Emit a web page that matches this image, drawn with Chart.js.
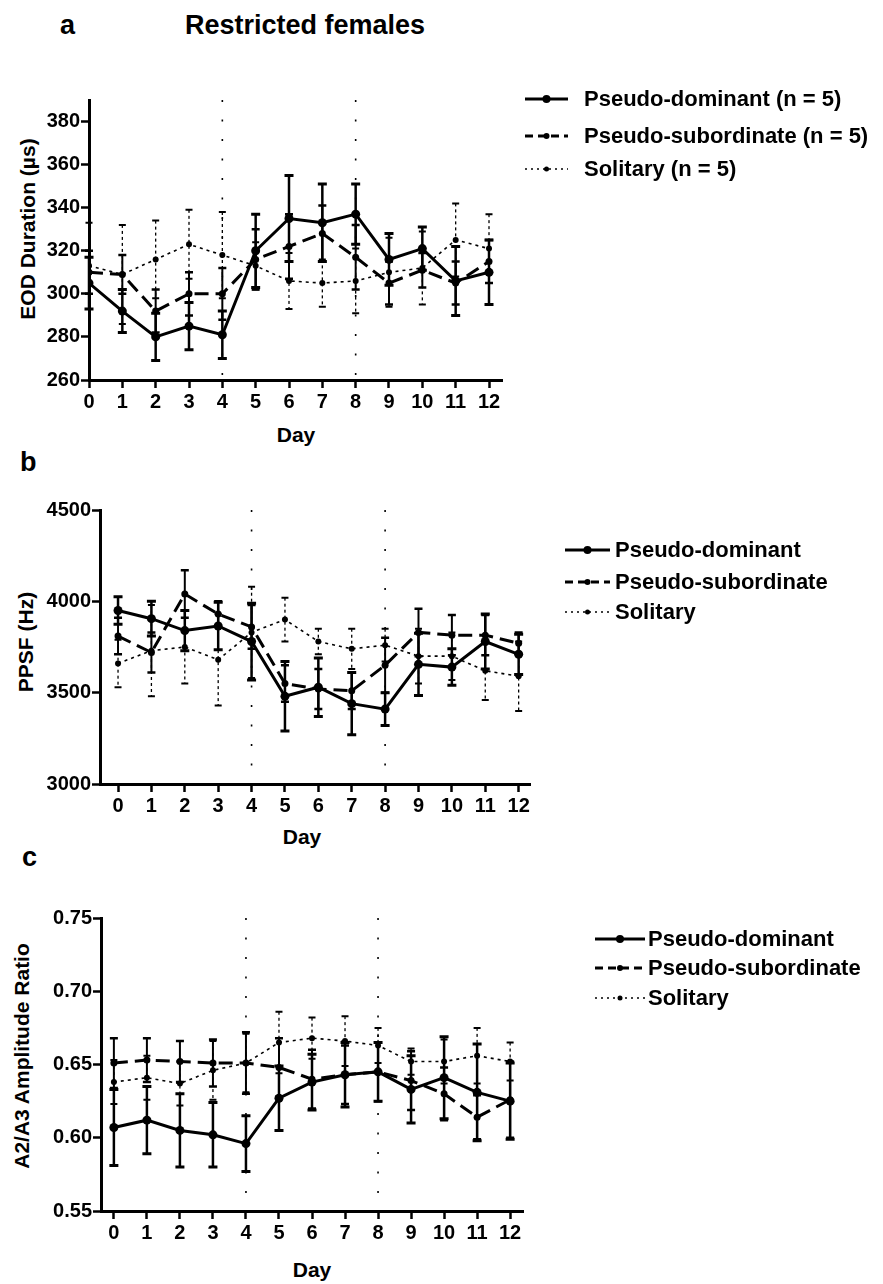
<!DOCTYPE html>
<html>
<head>
<meta charset="utf-8">
<script src="https://cdn.jsdelivr.net/npm/chart.js@4.4.1/dist/chart.umd.min.js"></script>
<style>
  html, body { margin: 0; padding: 0; background: #fff; }
  #page { position: relative; width: 883px; height: 1284px; overflow: hidden; background: #fff;
          font-family: "Liberation Sans", Arial, Helvetica, sans-serif; font-weight: bold; color: #000; }
  canvas { position: absolute; left: 0; }
  .t { position: absolute; line-height: 1; white-space: nowrap; }
  .ylab { position: absolute; line-height: 1; white-space: nowrap; font-size: 21px;
          transform: translate(-50%, -50%) rotate(-90deg); }
  .xlab { position: absolute; line-height: 1; white-space: nowrap; font-size: 21px; transform: translateX(-50%); }
</style>
</head>
<body>
<div id="page">
  <div class="t" style="left:60px; top:12px; font-size:27px;">a</div>
  <div class="t" style="left:185px; top:12px; font-size:27px;">Restricted females</div>
  <div class="t" style="left:20px; top:449px; font-size:27px;">b</div>
  <div class="t" style="left:22px; top:844px; font-size:27px;">c</div>

  <div class="ylab" style="left:27px; top:229px;">EOD Duration (µs)</div>
  <div class="ylab" style="left:25px; top:642px;">PPSF (Hz)</div>
  <div class="ylab" style="left:21px; top:1056px;">A2/A3 Amplitude Ratio</div>

  <div class="xlab" style="left:296px; top:424px;">Day</div>
  <div class="xlab" style="left:302px; top:826px;">Day</div>
  <div class="xlab" style="left:312px; top:1259px;">Day</div>
</div>
<script>
// ---- data ----
const days = [0, 1, 2, 3, 4, 5, 6, 7, 8, 9, 10, 11, 12];
const treatmentDays = [4, 8];

const eodTicks = [260, 280, 300, 320, 340, 360, 380];
const ppsfTicks = [3000, 3500, 4000, 4500];
const ampTicks = [0.55, 0.60, 0.65, 0.70, 0.75];

const legendLabelsA = ['Pseudo-dominant (n = 5)', 'Pseudo-subordinate (n = 5)', 'Solitary (n = 5)'];
const legendLabels = ['Pseudo-dominant', 'Pseudo-subordinate', 'Solitary'];

// EOD duration (µs), mean and error
const eodDominant       = [305, 292, 280, 285, 281, 320, 335, 333, 337, 316, 321, 306, 310];
const eodDominantErr    = [12, 10, 11, 11, 11, 17, 20, 18, 14, 12, 10, 16, 15];
const eodSubordinate    = [310, 309, 292, 300, 300, 316, 322, 328, 317, 305, 311, 305, 315];
const eodSubordinateErr = [10, 9, 10, 10, 12, 14, 15, 13, 15, 10, 8, 10, 10];
const eodSolitary       = [313, 309, 316, 323, 318, 313, 306, 305, 306, 310, 312, 325, 321];
const eodSolitaryErr    = [20, 23, 18, 16, 20, 11, 13, 11, 15, 16, 17, 17, 16];

// PPSF (Hz)
const ppsfDominant       = [3950, 3905, 3840, 3865, 3780, 3480, 3530, 3440, 3410, 3655, 3640, 3780, 3710];
const ppsfDominantErr    = [75, 95, 110, 130, 210, 190, 160, 170, 90, 170, 100, 150, 110];
const ppsfSubordinate    = [3810, 3720, 4040, 3930, 3860, 3550, 3520, 3510, 3650, 3830, 3815, 3815, 3770];
const ppsfSubordinateErr = [100, 110, 130, 70, 120, 100, 110, 100, 150, 130, 110, 110, 60];
const ppsfSolitary       = [3660, 3730, 3750, 3680, 3830, 3900, 3780, 3740, 3760, 3700, 3700, 3620, 3590];
const ppsfSolitaryErr    = [130, 250, 200, 250, 250, 120, 70, 110, 90, 150, 130, 160, 190];

// A2/A3 amplitude ratio
const ampDominant       = [0.607, 0.612, 0.605, 0.602, 0.596, 0.627, 0.638, 0.643, 0.645, 0.633, 0.641, 0.631, 0.625];
const ampDominantErr    = [0.026, 0.023, 0.025, 0.022, 0.019, 0.022, 0.019, 0.022, 0.020, 0.023, 0.028, 0.033, 0.026];
const ampSubordinate    = [0.651, 0.653, 0.652, 0.651, 0.651, 0.648, 0.640, 0.643, 0.645, 0.639, 0.630, 0.614, 0.626];
const ampSubordinateErr = [0.017, 0.015, 0.014, 0.016, 0.021, 0.020, 0.020, 0.020, 0.020, 0.020, 0.018, 0.015, 0.026];
const ampSolitary       = [0.638, 0.641, 0.637, 0.646, 0.651, 0.665, 0.668, 0.666, 0.663, 0.652, 0.652, 0.656, 0.652];
const ampSolitaryErr    = [0.015, 0.015, 0.015, 0.020, 0.020, 0.021, 0.014, 0.017, 0.012, 0.009, 0.015, 0.019, 0.013];

// ---- drawing styles per group: solid, dashed, dotted ----
const FONT = '"Liberation Sans", Arial, Helvetica, sans-serif';
const groupStyles = [
  { dash: [],      width: 3,   radius: 4.5, errWidth: 2.5, errDash: [],     capWidth: 3,   capHalf: 4.5, legDash: [] },
  { dash: [14, 7], width: 3,   radius: 3.5, errWidth: 2,   errDash: [],     capWidth: 2.5, capHalf: 4,   legDash: [8, 5] },
  { dash: [3, 4],  width: 1.6, radius: 3,   errWidth: 1.3, errDash: [3, 3], capWidth: 2,   capHalf: 3.5, legDash: [2, 4] }
];

// Vertical dotted markers at the treatment days
const refLines = {
  id: 'refLines',
  beforeDatasetsDraw(chart) {
    const { ctx, chartArea } = chart;
    const xs = chart.scales.x;
    ctx.save();
    ctx.strokeStyle = '#000';
    ctx.lineWidth = 1.6;
    ctx.setLineDash([2, 17.5]);
    treatmentDays.forEach(d => {
      const x = xs.getPixelForValue(d);
      ctx.beginPath();
      ctx.moveTo(x, chartArea.top);
      ctx.lineTo(x, chartArea.bottom);
      ctx.stroke();
    });
    ctx.restore();
  }
};

// Error bars with caps, taken from each dataset's `errors`
const errorBars = {
  id: 'errorBars',
  afterDatasetsDraw(chart) {
    const { ctx } = chart;
    const xs = chart.scales.x, ys = chart.scales.y;
    chart.data.datasets.forEach(ds => {
      const st = groupStyles[ds.group];
      ctx.save();
      ctx.strokeStyle = '#000';
      ds.data.forEach((p, j) => {
        const e = ds.errors[j];
        const x = xs.getPixelForValue(p.x);
        const yt = ys.getPixelForValue(p.y + e);
        const yb = ys.getPixelForValue(p.y - e);
        ctx.lineWidth = st.errWidth;
        ctx.setLineDash(st.errDash);
        ctx.beginPath();
        ctx.moveTo(x, yt);
        ctx.lineTo(x, yb);
        ctx.stroke();
        ctx.setLineDash([]);
        ctx.lineWidth = st.capWidth;
        ctx.beginPath();
        ctx.moveTo(x - st.capHalf, yt); ctx.lineTo(x + st.capHalf, yt);
        ctx.moveTo(x - st.capHalf, yb); ctx.lineTo(x + st.capHalf, yb);
        ctx.stroke();
      });
      ctx.restore();
    });
  }
};

// Legend at the right of each panel
const legendRows = {
  id: 'legendRows',
  afterDraw(chart, args, opts) {
    const { ctx } = chart;
    ctx.save();
    chart.data.datasets.forEach((ds, i) => {
      const st = groupStyles[ds.group];
      const y = opts.rows[i];
      ctx.strokeStyle = '#000';
      ctx.lineWidth = st.width;
      ctx.setLineDash(st.legDash);
      ctx.beginPath();
      ctx.moveTo(opts.x0, y);
      ctx.lineTo(opts.x1, y);
      ctx.stroke();
      ctx.setLineDash([]);
      ctx.fillStyle = '#000';
      ctx.beginPath();
      ctx.arc((opts.x0 + opts.x1) / 2, y, st.radius - 0.5, 0, Math.PI * 2);
      ctx.fill();
      ctx.font = 'bold ' + opts.size + 'px ' + FONT;
      ctx.textBaseline = 'middle';
      ctx.textAlign = 'left';
      ctx.fillText(ds.label, opts.textX, y + 1);
    });
    ctx.restore();
  }
};

const page = document.getElementById('page');
const tickFont = { family: FONT, size: 20, weight: 'bold' };

function panel(cfg) {
  const canvas = document.createElement('canvas');
  canvas.width = 883;
  canvas.height = cfg.height;
  canvas.style.top = cfg.top + 'px';
  page.appendChild(canvas);

  const datasets = cfg.series.map((s, i) => ({
    label: cfg.labels[i],
    group: i,
    data: days.map((d, j) => ({ x: d, y: s.values[j] })),
    errors: s.errors,
    borderColor: '#000',
    backgroundColor: '#000',
    borderWidth: groupStyles[i].width,
    borderDash: groupStyles[i].dash,
    pointRadius: groupStyles[i].radius,
    pointBorderWidth: 0,
    pointBackgroundColor: '#000',
    tension: 0,
    order: 3 - i
  }));

  const plotBottomInCanvas = cfg.plotBottom - cfg.top;

  new Chart(canvas, {
    type: 'line',
    data: { datasets },
    options: {
      responsive: false,
      animation: false,
      devicePixelRatio: 1,
      layout: { padding: { left: 0, top: cfg.plotTop - cfg.top, right: 883 - cfg.plotRight, bottom: 0 } },
      plugins: {
        legend: { display: false },
        tooltip: { enabled: false },
        legendRows: cfg.legend
      },
      scales: {
        x: {
          type: 'linear',
          min: cfg.xMin, max: cfg.xMax,
          afterBuildTicks: s => { s.ticks = days.map(v => ({ value: v })); },
          afterFit: s => { s.height = cfg.height - plotBottomInCanvas; },
          grid: { drawOnChartArea: false, drawTicks: true, tickLength: 8, tickWidth: 2.5, tickColor: '#000' },
          border: { display: true, color: '#000', width: 3 },
          ticks: { color: '#000', font: tickFont, padding: 2, maxRotation: 0, autoSkip: false,
                   callback: v => String(v) }
        },
        y: {
          type: 'linear',
          min: cfg.yMin, max: cfg.yMax,
          afterBuildTicks: s => { s.ticks = cfg.yTicks.map(v => ({ value: v })); },
          afterFit: s => { s.width = cfg.plotLeft; },
          grid: { drawOnChartArea: false, drawTicks: true, tickLength: 8, tickWidth: 2.5, tickColor: '#000' },
          border: { display: true, color: '#000', width: 3 },
          ticks: { color: '#000', font: tickFont, padding: 1, autoSkip: false,
                   callback: v => cfg.yDecimals ? v.toFixed(cfg.yDecimals) : String(v) }
        }
      }
    },
    plugins: [refLines, errorBars, legendRows]
  });
}

panel({
  top: 80, height: 380,
  plotLeft: 89, plotRight: 502, plotTop: 100, plotBottom: 380,
  xMin: 0, xMax: 12.39,
  yMin: 260, yMax: 390, yTicks: eodTicks, yDecimals: 0,
  labels: legendLabelsA,
  series: [
    { values: eodDominant, errors: eodDominantErr },
    { values: eodSubordinate, errors: eodSubordinateErr },
    { values: eodSolitary, errors: eodSolitaryErr }
  ],
  legend: { x0: 525, x1: 568, textX: 584, rows: [19, 56, 89], size: 22 }
});

panel({
  top: 480, height: 380,
  plotLeft: 100, plotRight: 530, plotTop: 510, plotBottom: 784,
  xMin: -0.54, xMax: 12.34,
  yMin: 3000, yMax: 4500, yTicks: ppsfTicks, yDecimals: 0,
  labels: legendLabels,
  series: [
    { values: ppsfDominant, errors: ppsfDominantErr },
    { values: ppsfSubordinate, errors: ppsfSubordinateErr },
    { values: ppsfSolitary, errors: ppsfSolitaryErr }
  ],
  legend: { x0: 565, x1: 610, textX: 615, rows: [70, 102, 132], size: 22 }
});

panel({
  top: 880, height: 404,
  plotLeft: 101, plotRight: 523, plotTop: 918, plotBottom: 1211,
  xMin: -0.39, xMax: 12.39,
  yMin: 0.55, yMax: 0.75, yTicks: ampTicks, yDecimals: 2,
  labels: legendLabels,
  series: [
    { values: ampDominant, errors: ampDominantErr },
    { values: ampSubordinate, errors: ampSubordinateErr },
    { values: ampSolitary, errors: ampSolitaryErr }
  ],
  legend: { x0: 595, x1: 645, textX: 648, rows: [59, 88, 118], size: 22 }
});
</script>
</body>
</html>
